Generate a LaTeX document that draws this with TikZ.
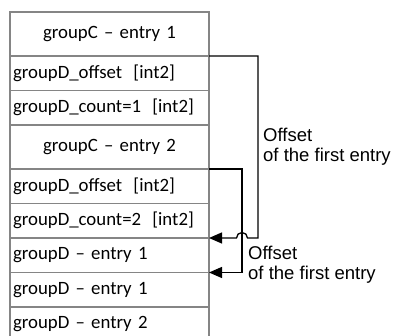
\documentclass[tikz,border=0pt]{standalone}
\usepackage{fontspec}
\setmainfont{Carlito}
\newfontfamily\labelfont{Liberation Sans}
\usetikzlibrary{positioning}
\usetikzlibrary{arrows.meta}

\begin{document}
\begin{tikzpicture}[
    x=1pt, y=1pt,
    wide/.style={rectangle, draw=black!48, line width=1.3pt, text width=193pt, inner xsep=3pt, inner ysep=0pt, outer sep=0pt, minimum height=44pt, align=center, font=\fontsize{18.8}{22}\selectfont},
    field/.style={wide, minimum height=34.5pt, align=left},
    link/.style={-{Triangle[length=13pt, width=11pt]}, line width=1.3pt},
    note/.style={anchor=north west, inner sep=0pt, align=left, font=\labelfont\fontsize{18.5}{20}\selectfont}
]
\clip (0,0) rectangle (394,-336);
\node[wide, anchor=north west] (1_1) at (10,-12) {groupC – entry 1};
\node[field] (2_1) [below=0pt of 1_1] {groupD\_offset\hspace{0.6em}[int2]};
\node[field] (3_1) [below=0pt of 2_1] {groupD\_count=1\hspace{0.6em}[int2]};
\node[wide] (4_1) [below=0pt of 3_1] {groupC – entry 2};
\node[field] (5_1) [below=0pt of 4_1] {groupD\_offset\hspace{0.6em}[int2]};
\node[field] (6_1) [below=0pt of 5_1] {groupD\_count=2\hspace{0.6em}[int2]};
\node[field] (7_1) [below=0pt of 6_1] {groupD – entry 1};
\node[field] (8_1) [below=0pt of 7_1] {groupD – entry 1};
\node[field] (9_1) [below=0pt of 8_1] {groupD – entry 2};

\draw[link] (2_1.north east) -- ++(49,0) |- ([xshift=38.5]7_1.north east)
    arc[start angle=0, end angle=180, radius=5.5] -- (7_1.north east);
\draw[link] (5_1.north east) -- ++(33,0) |- (8_1.north east);

\node[note] (off_1) at (263,-127.5) {Offset\\of the first entry};
\node[note] (off_2) at (248,-246) {Offset\\of the first entry};
\end{tikzpicture}
\end{document}
